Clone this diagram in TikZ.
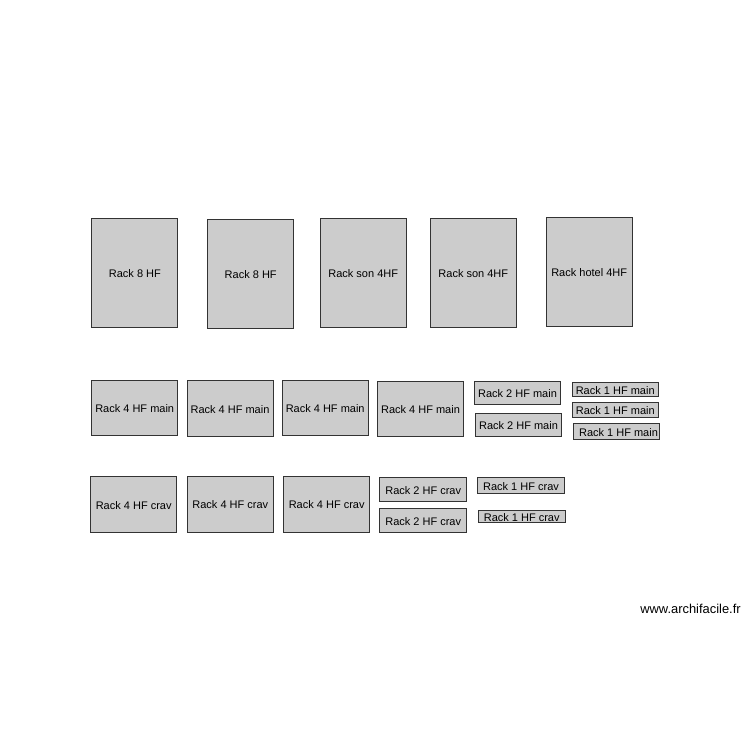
\documentclass[tikz,border=0pt]{standalone}
\usepackage{fontspec}
\setmainfont{Liberation Sans}
\usepackage{xcolor}
\usepackage{tikz}
\usetikzlibrary{positioning}

\definecolor{rackfill}{HTML}{CCCCCC}
\definecolor{rackedge}{HTML}{333333}

\begin{document}
\begin{tikzpicture}[
		x = 1pt, y = -1pt,
		rack slab/.style={
			rectangle, draw = rackedge, fill = rackfill, line width = 0.9pt,
			inner sep = 0pt, align = center, text height = 9.6pt, text depth = 0pt,
			font = \fontsize{11}{12}\selectfont
		},
		tall rack/.style={rack slab, minimum width = 86, minimum height = 109},
		four rack/.style={rack slab, minimum width = 86, minimum height = 55.5},
		two rack/.style={rack slab, minimum width = 86.5, minimum height = 23.5},
		one rack/.style={rack slab, minimum width = 86, minimum height = 15},
	]
		\fill[white] (0, 0) rectangle (750, 750);
		\useasboundingbox (0, 0) rectangle (750, 750);

		% top row
		\node[tall rack] (eightA) at (134.9, 272.7) {Rack 8 HF};
		\node[tall rack] (eightB) at (250.7, 273.5) {Rack 8 HF};
		\node[tall rack] (sonA) at (363.2, 272.8) {Rack son 4HF};
		\node[tall rack] (sonB) at (473.3, 272.7) {Rack son 4HF};
		\node[tall rack] (hotel) at (589.2, 271.8) {Rack hotel 4HF};

		% main row
		\node[four rack] (mainA) at (134.7, 407.7) {Rack 4 HF main};
		\node[four rack] (mainB) at (230.0, 408.2) {Rack 4 HF main};
		\node[four rack] (mainC) at (325.2, 407.7) {Rack 4 HF main};
		\node[four rack] (mainD) at (420.5, 408.7) {Rack 4 HF main};
		\node[two rack] (mainTwoA) at (517.5, 392.8) {Rack 2 HF main};
		\node[two rack] (mainTwoB) at (518.5, 425.0) {Rack 2 HF main};
		\node[one rack, minimum height = 14] (mainOneA) at (615.2, 389.7) {Rack 1 HF main};
		\node[one rack] (mainOneB) at (615.3, 409.8) {Rack 1 HF main};
		\node[one rack, minimum height = 15.7] (mainOneC) at (616.5, 431.2) {\hspace{4pt}Rack 1 HF main};

		% crav row
		\node[four rack, minimum height = 56] (cravA) at (133.7, 504.2) {Rack 4 HF crav};
		\node[four rack, minimum height = 56] (cravB) at (230.3, 504.0) {Rack 4 HF crav};
		\node[four rack, minimum height = 56] (cravC) at (326.7, 504.0) {Rack 4 HF crav};
		\node[two rack, minimum width = 87, minimum height = 24.4] (cravTwoA) at (423.2, 489.5) {Rack 2 HF crav};
		\node[two rack, minimum width = 87, minimum height = 24] (cravTwoB) at (423.2, 520.7) {Rack 2 HF crav};
		\node[one rack, minimum width = 86.6, minimum height = 16] (cravOneA) at (521.0, 485.3) {Rack 1 HF crav};
		\node[one rack, minimum width = 86.6, minimum height = 12.7] (cravOneB) at (521.7, 516.3) {Rack 1 HF crav};

		\node[font = \fontsize{12.9}{14}\selectfont] (site) at (690.5, 609) {www.archifacile.fr};
	\end{tikzpicture}
\end{document}
